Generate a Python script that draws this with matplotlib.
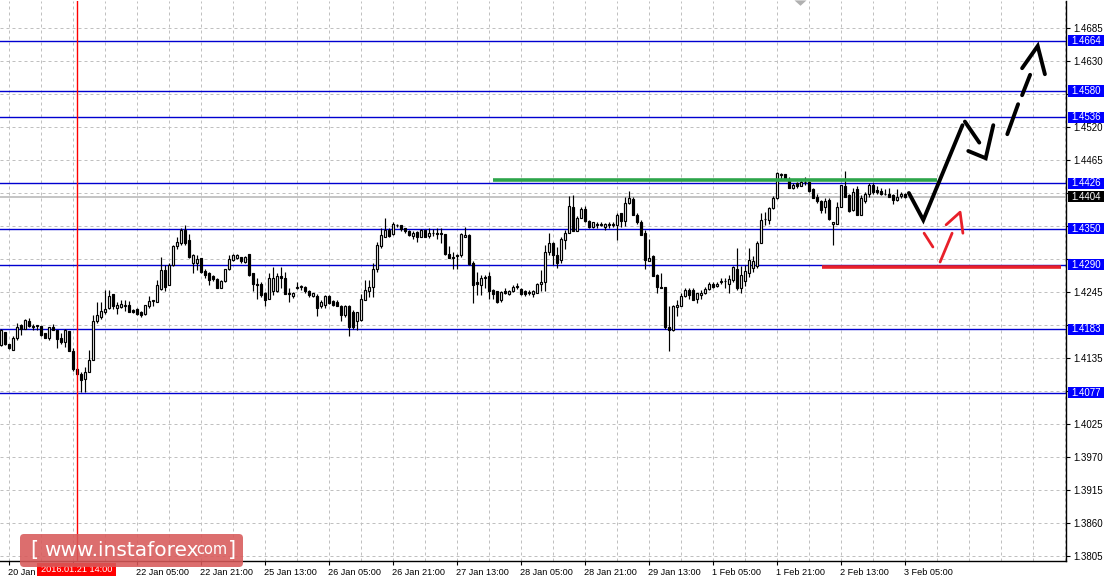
import matplotlib
matplotlib.use('Agg')
import matplotlib.pyplot as plt
import numpy as np
from matplotlib.patches import Rectangle, FancyBboxPatch, Polygon
from matplotlib.transforms import blended_transform_factory, IdentityTransform

# ---------------- data (H1 candles) ----------------
opens = [1.4157,1.4178,1.4158,1.4149,1.4168,1.4190,1.4184,1.4196,1.4187,1.4188,
         1.4188,1.4176,1.4169,1.4187,1.4182,1.4168,1.4162,1.4180,1.4147,1.4117,
         1.4109,1.4100,1.4112,1.4132,1.4196,1.4204,1.4212,1.4218,1.4242,1.4219,
         1.4220,1.4222,1.4224,1.4215,1.4216,1.4211,1.4208,1.4221,1.4230,1.4229,
         1.4250,1.4282,1.4256,1.4290,1.4322,1.4326,1.4348,1.4332,1.4293,1.4294,
         1.4301,1.4280,1.4276,1.4271,1.4267,1.4252,1.4263,1.4283,1.4298,1.4301,
         1.4304,1.4295,1.4308,1.4276,1.4259,1.4258,1.4244,1.4234,1.4247,1.4247,
         1.4271,1.4269,1.4243,1.4238,1.4251,1.4254,1.4254,1.4247,1.4239,1.4239,
         1.4221,1.4223,1.4238,1.4230,1.4228,1.4222,1.4206,1.4222,1.4212,1.4197,
         1.4198,1.4232,1.4246,1.4254,1.4284,1.4321,1.4337,1.4349,1.4341,1.4357,
         1.4356,1.4351,1.4347,1.4339,1.4345,1.4337,1.4348,1.4339,1.4343,1.4343,
         1.4341,1.4341,1.4309,1.4304,1.4305,1.4307,1.4336,1.4340,1.4294,1.4261,
         1.4257,1.4268,1.4272,1.4248,1.4246,1.4232,1.4246,1.4241,1.4247,1.4254,
         1.4250,1.4246,1.4243,1.4241,1.4244,1.4259,1.4261,1.4312,1.4326,1.4307,
         1.4298,1.4331,1.4344,1.4386,1.4347,1.4368,1.4384,1.4364,1.4354,1.4357,
         1.4359,1.4354,1.4357,1.4359,1.4356,1.4376,1.4364,1.4394,1.4400,1.4374,
         1.4362,1.4343,1.4297,1.4305,1.4274,1.4254,1.4253,1.4187,1.4182,1.4220,
         1.4222,1.4238,1.4248,1.4249,1.4233,1.4240,1.4243,1.4250,1.4259,1.4255,
         1.4262,1.4263,1.4259,1.4265,1.4284,1.4251,1.4263,1.4276,1.4285,1.4288,
         1.4326,1.4366,1.4365,1.4385,1.4401,1.4440,1.4441,1.4434,1.4419,1.4426,
         1.4422,1.4429,1.4429,1.4417,1.4404,1.4397,1.4386,1.4398,1.4358,1.4359,
         1.4387,1.4422,1.4407,1.4382,1.4417,1.4374,1.4396,1.4409,1.4424,1.4415,
         1.4413,1.4409,1.4409,1.4407,1.4398,1.4405,1.4409]
highs = [1.4183,1.4179,1.4158,1.4171,1.4194,1.4192,1.4200,1.4202,1.4191,1.4190,
         1.4189,1.4176,1.4187,1.4192,1.4182,1.4176,1.4184,1.4180,1.4151,1.4118,
         1.4111,1.4120,1.4148,1.4207,1.4228,1.4228,1.4249,1.4248,1.4242,1.4228,
         1.4231,1.4231,1.4230,1.4217,1.4218,1.4213,1.4224,1.4239,1.4231,1.4265,
         1.4304,1.4290,1.4293,1.4323,1.4336,1.4351,1.4357,1.4342,1.4309,1.4306,
         1.4302,1.4284,1.4279,1.4273,1.4268,1.4265,1.4284,1.4307,1.4308,1.4308,
         1.4304,1.4305,1.4309,1.4277,1.4268,1.4262,1.4245,1.4277,1.4286,1.4277,
         1.4287,1.4278,1.4251,1.4245,1.4262,1.4256,1.4255,1.4248,1.4244,1.4241,
         1.4232,1.4240,1.4240,1.4232,1.4232,1.4224,1.4224,1.4224,1.4215,1.4212,
         1.4241,1.4265,1.4265,1.4293,1.4329,1.4351,1.4368,1.4352,1.4361,1.4359,
         1.4357,1.4352,1.4348,1.4346,1.4346,1.4350,1.4349,1.4351,1.4350,1.4351,
         1.4351,1.4341,1.4322,1.4312,1.4309,1.4344,1.4354,1.4341,1.4296,1.4278,
         1.4273,1.4273,1.4278,1.4250,1.4247,1.4246,1.4251,1.4248,1.4257,1.4260,
         1.4251,1.4248,1.4248,1.4248,1.4260,1.4282,1.4324,1.4344,1.4329,1.4320,
         1.4337,1.4348,1.4405,1.4407,1.4372,1.4386,1.4388,1.4365,1.4362,1.4362,
         1.4361,1.4360,1.4362,1.4361,1.4376,1.4376,1.4404,1.4413,1.4403,1.4376,
         1.4365,1.4348,1.4334,1.4307,1.4275,1.4276,1.4254,1.4221,1.4223,1.4232,
         1.4244,1.4251,1.4251,1.4251,1.4244,1.4248,1.4253,1.4262,1.4262,1.4262,
         1.4269,1.4268,1.4273,1.4288,1.4318,1.4288,1.4290,1.4318,1.4305,1.4330,
         1.4376,1.4378,1.4387,1.4405,1.4445,1.4443,1.4442,1.4436,1.4426,1.4428,
         1.4432,1.4436,1.4430,1.4418,1.4408,1.4398,1.4401,1.4401,1.4362,1.4395,
         1.4424,1.4446,1.4409,1.4418,1.4422,1.4406,1.4411,1.4427,1.4426,1.4421,
         1.4418,1.4417,1.4418,1.4408,1.4417,1.4412,1.4410]
lows = [1.4155,1.4157,1.4150,1.4149,1.4165,1.4173,1.4183,1.4187,1.4181,1.4181,
        1.4172,1.4168,1.4165,1.4181,1.4151,1.4158,1.4154,1.4147,1.4113,1.4106,
        1.4078,1.4079,1.4112,1.4132,1.4194,1.4200,1.4208,1.4217,1.4216,1.4208,
        1.4219,1.4213,1.4211,1.4210,1.4206,1.4203,1.4207,1.4219,1.4221,1.4228,
        1.4249,1.4247,1.4256,1.4289,1.4317,1.4323,1.4323,1.4301,1.4276,1.4282,
        1.4276,1.4269,1.4256,1.4264,1.4251,1.4251,1.4262,1.4282,1.4297,1.4300,
        1.4294,1.4294,1.4271,1.4247,1.4233,1.4237,1.4222,1.4233,1.4240,1.4245,
        1.4251,1.4242,1.4229,1.4235,1.4250,1.4249,1.4243,1.4237,1.4236,1.4205,
        1.4219,1.4219,1.4225,1.4222,1.4222,1.4197,1.4204,1.4171,1.4184,1.4182,
        1.4197,1.4232,1.4237,1.4237,1.4279,1.4318,1.4336,1.4337,1.4340,1.4354,
        1.4347,1.4343,1.4339,1.4333,1.4328,1.4336,1.4336,1.4335,1.4339,1.4333,
        1.4326,1.4307,1.4301,1.4283,1.4283,1.4304,1.4336,1.4290,1.4226,1.4240,
        1.4240,1.4251,1.4234,1.4234,1.4227,1.4229,1.4241,1.4240,1.4245,1.4250,
        1.4240,1.4239,1.4240,1.4237,1.4243,1.4247,1.4246,1.4307,1.4290,1.4285,
        1.4293,1.4316,1.4344,1.4347,1.4347,1.4368,1.4362,1.4351,1.4351,1.4351,
        1.4355,1.4348,1.4351,1.4354,1.4332,1.4354,1.4355,1.4392,1.4373,1.4359,
        1.4340,1.4283,1.4296,1.4271,1.4243,1.4251,1.4184,1.4147,1.4180,1.4205,
        1.4221,1.4237,1.4233,1.4231,1.4226,1.4234,1.4242,1.4248,1.4251,1.4253,
        1.4259,1.4251,1.4243,1.4262,1.4249,1.4243,1.4255,1.4270,1.4278,1.4285,
        1.4326,1.4357,1.4358,1.4383,1.4400,1.4434,1.4432,1.4418,1.4417,1.4419,
        1.4421,1.4423,1.4412,1.4401,1.4393,1.4376,1.4376,1.4365,1.4323,1.4358,
        1.4386,1.4403,1.4379,1.4380,1.4373,1.4373,1.4394,1.4403,1.4409,1.4409,
        1.4406,1.4406,1.4404,1.4391,1.4397,1.4402,1.4401]
closes = [1.4182,1.4158,1.4151,1.4169,1.4187,1.4183,1.4198,1.4188,1.4189,1.4190,
          1.4173,1.4169,1.4186,1.4182,1.4167,1.4162,1.4182,1.4147,1.4117,1.4108,
          1.4098,1.4112,1.4132,1.4196,1.4206,1.4213,1.4217,1.4239,1.4221,1.4223,
          1.4225,1.4223,1.4211,1.4212,1.4208,1.4207,1.4223,1.4230,1.4231,1.4257,
          1.4282,1.4254,1.4290,1.4321,1.4329,1.4348,1.4326,1.4304,1.4307,1.4300,
          1.4278,1.4273,1.4265,1.4267,1.4251,1.4264,1.4283,1.4300,1.4307,1.4306,
          1.4296,1.4303,1.4273,1.4258,1.4257,1.4240,1.4232,1.4269,1.4269,1.4271,
          1.4268,1.4242,1.4241,1.4243,1.4254,1.4255,1.4246,1.4240,1.4243,1.4219,
          1.4228,1.4238,1.4226,1.4223,1.4222,1.4206,1.4222,1.4186,1.4186,1.4211,
          1.4233,1.4248,1.4254,1.4283,1.4323,1.4340,1.4349,1.4339,1.4358,1.4356,
          1.4350,1.4347,1.4340,1.4344,1.4337,1.4348,1.4337,1.4343,1.4344,1.4341,
          1.4343,1.4308,1.4302,1.4301,1.4307,1.4341,1.4340,1.4291,1.4257,1.4258,
          1.4269,1.4270,1.4247,1.4241,1.4229,1.4245,1.4244,1.4247,1.4254,1.4255,
          1.4241,1.4241,1.4245,1.4246,1.4258,1.4262,1.4312,1.4326,1.4306,1.4293,
          1.4333,1.4343,1.4388,1.4347,1.4369,1.4383,1.4364,1.4353,1.4361,1.4359,
          1.4356,1.4359,1.4359,1.4357,1.4373,1.4364,1.4393,1.4401,1.4374,1.4361,
          1.4340,1.4298,1.4301,1.4271,1.4253,1.4251,1.4186,1.4182,1.4222,1.4223,
          1.4238,1.4248,1.4240,1.4232,1.4243,1.4243,1.4250,1.4258,1.4253,1.4259,
          1.4263,1.4264,1.4267,1.4286,1.4251,1.4273,1.4280,1.4298,1.4297,1.4326,
          1.4365,1.4367,1.4385,1.4402,1.4444,1.4441,1.4433,1.4419,1.4423,1.4421,
          1.4428,1.4428,1.4413,1.4401,1.4396,1.4382,1.4397,1.4367,1.4361,1.4387,
          1.4423,1.4404,1.4380,1.4412,1.4374,1.4401,1.4409,1.4424,1.4411,1.4412,
          1.4409,1.4408,1.4404,1.4398,1.4404,1.4408,1.4404]

# horizontal levels (blue) and current price
levels = [1.4664, 1.4580, 1.4536, 1.4426, 1.4350, 1.4290, 1.4183, 1.4077]
current_price = 1.4404
# price-scale ticks
y_ticks = [1.3805, 1.3860, 1.3915, 1.3970, 1.4025, 1.4080, 1.4135, 1.4190, 1.4245,
           1.4300, 1.4355, 1.4410, 1.4465, 1.4520, 1.4575, 1.4630, 1.4685]
# time labels (every 16 bars, starting at bar 2); the first two sit under the cursor tag
time_labels = ["20 Jan", "", "22 Jan 05:00", "22 Jan 21:00",
               "25 Jan 13:00", "26 Jan 05:00", "26 Jan 21:00", "27 Jan 13:00",
               "28 Jan 05:00", "28 Jan 21:00", "29 Jan 13:00", "1 Feb 05:00",
               "1 Feb 21:00", "2 Feb 13:00", "3 Feb 05:00"]
time_label_bars = [2 + 16 * i for i in range(len(time_labels))]
cursor_bar = 19
cursor_label = "2016.01.21 14:00"

# drawn annotations (bar index, price)
green_x = [123.1, 234.1]
green_y = [1.4431, 1.4431]
red_x = [205.4, 265.1]
red_y = [1.4287, 1.4287]
black_strokes = [
    ([227.1, 230.7, 240.5], [1.4410, 1.4365, 1.4523]),
    ([241.1, 244.7], [1.4529, 1.4494]),
    ([241.95, 246.3, 248.2], [1.4480, 1.4468, 1.4523]),
    ([251.7, 254.4], [1.4508, 1.4558]),
    ([255.4, 257.4], [1.4573, 1.4607]),
    ([255.4, 259.3, 261.1], [1.4618, 1.4655, 1.4608]),
]
red_strokes = [
    ([230.9, 233.1], [1.4343, 1.4320]),
    ([234.9, 237.9], [1.4295, 1.4343]),
    ([236.4, 239.9, 240.6], [1.4357, 1.4378, 1.4343]),
]

# ---------------- figure ----------------
W, H = 1111, 583
fig = plt.figure(figsize=(W / 100, H / 100), dpi=100)
fig.patch.set_facecolor('white')
ax = fig.add_axes([0, (H - 561) / H, 1066 / W, 560 / H])
ax.set_facecolor('white')

px_per_bar = 4.0
xmin = -0.125
ax.set_xlim(xmin, xmin + 1066 / px_per_bar)
ax.set_ylim(1.4685 - 533 / 6000, 1.4685 + 27 / 6000)

FONT = 'Liberation Sans'
PX = 0.72  # points per pixel

# grid
for yv in y_ticks:
    ax.axhline(yv, color='#c0c0c0', lw=PX, ls=(0, (3, 3)), zorder=0)
for b in np.arange(2, 267, 8):
    ax.axvline(b, color='#c0c0c0', lw=PX, ls=(0, (3, 3)), zorder=0)

# current price line
ax.axhline(current_price, color='#c0c0c0', lw=1.3, zorder=1)
# levels
for lv in levels:
    ax.axhline(lv, color='#0000d0', lw=1.0, zorder=1)

# cursor line
ax.axvline(cursor_bar, color='#ff0000', lw=1.0, zorder=4)

# candles
o = np.array(opens); h = np.array(highs); l = np.array(lows); c = np.array(closes)
x = np.arange(len(o))
ax.vlines(x, l, h, color='black', lw=0.85, zorder=2)
up = c >= o
blo = np.minimum(o, c)
bh = np.maximum(np.abs(c - o), 0.00004)
ax.bar(x[up], bh[up], bottom=blo[up], width=0.5, color='white', edgecolor='black',
       linewidth=0.85, zorder=3)
ax.bar(x[~up], bh[~up], bottom=blo[~up], width=0.5, color='black', edgecolor='black',
       linewidth=0.85, zorder=3)

# annotations
ax.plot(green_x, green_y, color='#2ca54a', lw=2.6, solid_capstyle='butt', zorder=5)
ax.plot(red_x, red_y, color='#e8202a', lw=2.6, solid_capstyle='butt', zorder=5)
for sx, sy in black_strokes:
    ax.plot(sx, sy, color='black', lw=2.8, solid_capstyle='round', solid_joinstyle='miter', zorder=6)
for sx, sy in red_strokes:
    ax.plot(sx, sy, color='#e8202a', lw=2.0, solid_capstyle='round', zorder=6)

# chart-shift marker at top
ax.add_patch(Polygon([(198.5, 1.4731), (201.5, 1.4731), (200.0, 1.4722)], closed=True,
                     facecolor='#b0b0b0', edgecolor='none', clip_on=False, zorder=7))

# axes styling
for s in ['top', 'left']:
    ax.spines[s].set_visible(False)
ax.spines['right'].set_linewidth(1.0)
ax.spines['bottom'].set_linewidth(1.0)
ax.yaxis.tick_right()
ax.set_yticks(y_ticks)


def covered(v):
    return any(abs(v - lv) < 0.0012 for lv in levels + [current_price])


ax.set_yticklabels(["" if covered(v) else f"{v:.4f}" for v in y_ticks], fontsize=7,
                   fontfamily=FONT)
ax.tick_params(axis='y', length=3, width=0.8, pad=2, direction='out')
ax.set_xticks(time_label_bars)
ax.set_xticklabels(time_labels, fontsize=6.6, fontfamily=FONT, ha='left')
ax.tick_params(axis='x', length=3, width=0.8, pad=2, direction='out')

# right price-scale boxes
bt = blended_transform_factory(fig.transFigure, ax.transData)
bh_price = 11 / 6000
for lv in levels:
    ax.add_patch(Rectangle((1068 / W, lv - bh_price / 2), 36 / W, bh_price, transform=bt,
                           facecolor='#0000ff', edgecolor='none', clip_on=False, zorder=10))
    ax.text(1086 / W, lv, f"{lv:.4f}", transform=bt, color='white', fontsize=7,
            fontfamily=FONT, ha='center', va='center', clip_on=False, zorder=11)
ax.add_patch(Rectangle((1068 / W, current_price - bh_price / 2), 36 / W, bh_price, transform=bt,
                       facecolor='black', edgecolor='none', clip_on=False, zorder=10))
ax.text(1086 / W, current_price, f"{current_price:.4f}", transform=bt, color='white',
        fontsize=7, fontfamily=FONT, ha='center', va='center', clip_on=False, zorder=11)

# cursor time label on x axis
fig.add_artist(Rectangle((37, H - 576), 79, 13, transform=IdentityTransform(),
                         facecolor='#ff0000', edgecolor='none', zorder=10))
fig.text(76.5 / W, (H - 569.5) / H, cursor_label, color='white', fontsize=6.6,
         fontfamily=FONT, ha='center', va='center', zorder=11)

# logo
fig.add_artist(FancyBboxPatch((20, H - 567), 223, 33, boxstyle='round,pad=0,rounding_size=4',
                              transform=IdentityTransform(), facecolor='#d85a5a', alpha=0.88,
                              edgecolor='none', zorder=12))
fig.text(30 / W, (H - 550) / H, "[", color='white', fontsize=15, fontfamily='DejaVu Sans',
         ha='left', va='center', zorder=13)
fig.text(44 / W, (H - 551) / H, "www.instaforex", color='white', fontsize=14.5,
         fontfamily='DejaVu Sans', ha='left', va='center', zorder=13)
fig.text(196 / W, (H - 549) / H, "com", color='white', fontsize=10.5,
         fontfamily='DejaVu Sans', ha='left', va='center', zorder=13)
fig.text(228 / W, (H - 550) / H, "]", color='white', fontsize=15, fontfamily='DejaVu Sans',
         ha='left', va='center', zorder=13)

fig.savefig('out.png', dpi=100, facecolor='white')
